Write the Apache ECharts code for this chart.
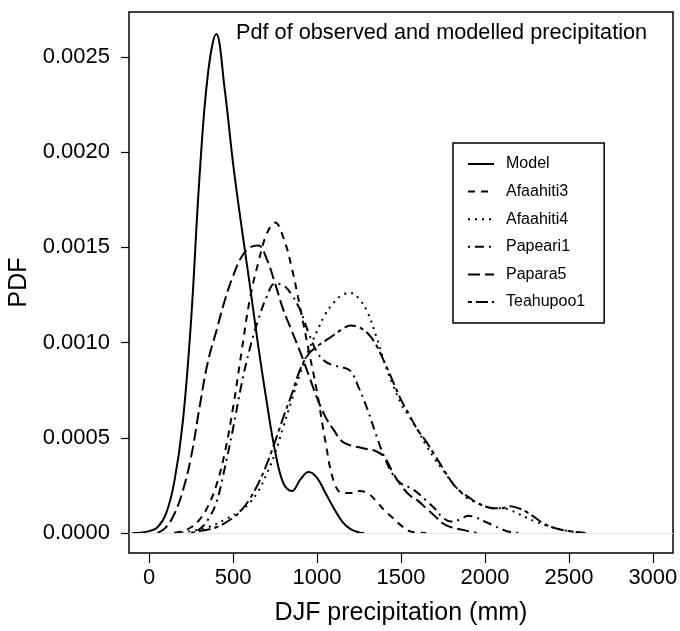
<!DOCTYPE html>
<html>
<head>
<meta charset="utf-8">
<script src="https://cdn.jsdelivr.net/npm/echarts@6/dist/echarts.min.js"></script>
<style>
html, body { margin: 0; padding: 0; background: #fff; }
#main { width: 680px; height: 631px; }
</style>
</head>
<body>
<div id="main"></div>
<script>
// series names as in the legend
var seriesNames = ['Model', 'Afaahiti3', 'Afaahiti4', 'Papeari1', 'Papara5', 'Teahupoo1'];

// precipitation (mm) and density values
var modelX = [-100, -50, 0, 50, 100, 150, 200, 250, 300, 350, 400, 450, 500, 550, 600, 650, 700, 750, 800, 850, 900, 950, 1000, 1050, 1100, 1150, 1200, 1250, 1280];
var modelY = [0, 0.000002, 0.00001, 0.00003, 0.0001, 0.00027, 0.00058, 0.00112, 0.00187, 0.00241, 0.00262, 0.00233, 0.00194, 0.00161, 0.0013, 0.00098, 0.00069, 0.00043, 0.00026, 0.00022, 0.00028, 0.00032, 0.00029, 0.00021, 0.00013, 0.00006, 0.00002, 0.000003, 0];

var afaahiti3X = [150, 200, 250, 300, 350, 400, 450, 500, 550, 600, 650, 700, 750, 800, 850, 900, 950, 1000, 1050, 1100, 1150, 1200, 1250, 1300, 1350, 1400, 1450, 1500, 1550, 1600, 1650];
var afaahiti3Y = [0, 0.00001, 0.00003, 0.00007, 0.00014, 0.00025, 0.00042, 0.00066, 0.00095, 0.00123, 0.00142, 0.00157, 0.00163, 0.00155, 0.00139, 0.00118, 0.00096, 0.00074, 0.00048, 0.00027, 0.00021, 0.00021, 0.00022, 0.00021, 0.00017, 0.00012, 0.00008, 0.00004, 0.00001, 0.000002, 0];

var afaahiti4X = [150, 250, 350, 450, 550, 600, 650, 700, 750, 800, 850, 900, 950, 1000, 1050, 1100, 1150, 1200, 1250, 1300, 1350, 1400, 1450, 1500, 1550, 1600, 1650, 1700, 1750, 1800, 1850, 1900, 1950, 2000, 2050, 2100, 2150, 2200, 2250, 2300, 2400, 2500, 2600];
var afaahiti4Y = [0, 0.00001, 0.00003, 0.00007, 0.00012, 0.00016, 0.00022, 0.00031, 0.00042, 0.00056, 0.0007, 0.00084, 0.00096, 0.00106, 0.00115, 0.00121, 0.00125, 0.00126, 0.00123, 0.00116, 0.00104, 0.0009, 0.00078, 0.00068, 0.00061, 0.00054, 0.00046, 0.00039, 0.00033, 0.00027, 0.00022, 0.00018, 0.00016, 0.00014, 0.00013, 0.00013, 0.00012, 0.0001, 0.00008, 0.00006, 0.00003, 0.00001, 0];

var papeari1X = [250, 300, 350, 400, 450, 500, 550, 600, 650, 700, 750, 800, 850, 900, 950, 1000, 1050, 1100, 1150, 1200, 1250, 1300, 1350, 1400, 1450, 1500, 1550, 1600, 1650, 1700, 1750, 1800, 1850, 1900, 1950, 2000, 2050, 2100, 2150, 2200];
var papeari1Y = [0, 0.00002, 0.00007, 0.00016, 0.00034, 0.00055, 0.00078, 0.00097, 0.00112, 0.00124, 0.00131, 0.0013, 0.00125, 0.00117, 0.00105, 0.00095, 0.0009, 0.00088, 0.00087, 0.00085, 0.00076, 0.00065, 0.00052, 0.0004, 0.00031, 0.00026, 0.00024, 0.00021, 0.00017, 0.00013, 0.00008, 0.00006, 0.00007, 0.00009, 0.00008, 0.00006, 0.00004, 0.00002, 0.000005, 0];

var papara5X = [50, 100, 150, 200, 250, 300, 350, 400, 450, 500, 550, 600, 650, 700, 750, 800, 850, 900, 950, 1000, 1050, 1100, 1150, 1200, 1250, 1300, 1350, 1400, 1450, 1500, 1550, 1600, 1650, 1700, 1750, 1800, 1850, 1900, 1950];
var papara5Y = [0, 0.00003, 0.0001, 0.00022, 0.0004, 0.00066, 0.0009, 0.00106, 0.00122, 0.00135, 0.00145, 0.0015, 0.00151, 0.00144, 0.00131, 0.00117, 0.00106, 0.00095, 0.00083, 0.00071, 0.00061, 0.00054, 0.00048, 0.00046, 0.00045, 0.00044, 0.00043, 0.0004, 0.00032, 0.00025, 0.0002, 0.00017, 0.00013, 0.00009, 0.00005, 0.00003, 0.00002, 0.00001, 0];

var teahupoo1X = [250, 300, 400, 500, 550, 600, 650, 700, 750, 800, 850, 900, 950, 1000, 1050, 1100, 1150, 1200, 1250, 1300, 1350, 1400, 1450, 1500, 1550, 1600, 1650, 1700, 1750, 1800, 1850, 1900, 1950, 2000, 2050, 2100, 2150, 2200, 2250, 2300, 2350, 2400, 2500, 2600];
var teahupoo1Y = [0, 0.00001, 0.00003, 0.00008, 0.00012, 0.00018, 0.00026, 0.00036, 0.00048, 0.00061, 0.00073, 0.00086, 0.00094, 0.00098, 0.00101, 0.00104, 0.00107, 0.00109, 0.00108, 0.00105, 0.00099, 0.0009, 0.0008, 0.0007, 0.00062, 0.00054, 0.00048, 0.00041, 0.00034, 0.00027, 0.00022, 0.00019, 0.00016, 0.00014, 0.00013, 0.00013, 0.00014, 0.00013, 0.00011, 0.00008, 0.00005, 0.00003, 0.00001, 0];

// tick positions
var xTicks = [0, 500, 1000, 1500, 2000, 2500, 3000];
var yTicks = [0, 0.0005, 0.001, 0.0015, 0.002, 0.0025];

var lineTypes = ['solid', [7, 6], [2, 5], [2, 5, 9, 5], [12, 5], [4, 4, 12, 4]];

function zip(xs, ys) {
	var out = [];
	for (var i = 0; i < xs.length; i++) out.push([xs[i], ys[i]]);
	return out;
}

var allX = [modelX, afaahiti3X, afaahiti4X, papeari1X, papara5X, teahupoo1X];
var allY = [modelY, afaahiti3Y, afaahiti4Y, papeari1Y, papara5Y, teahupoo1Y];

var font = '"Liberation Sans", Arial, Helvetica, sans-serif';

var series = [];
for (var k = 0; k < seriesNames.length; k++) {
	series.push({
		name: seriesNames[k],
		type: 'line',
		data: zip(allX[k], allY[k]),
		smooth: 0.4,
		symbol: 'none',
		silent: true,
		lineStyle: { color: '#000', width: 2, type: lineTypes[k] },
		itemStyle: { color: '#000' },
		z: 3
	});
}
// faint zero line
series[0].markLine = {
	silent: true,
	symbol: 'none',
	label: { show: false },
	lineStyle: { color: '#e4e4e4', width: 1, type: 'solid' },
	data: [{ yAxis: 0 }]
};

var myChart = echarts.init(document.getElementById('main'));
var option = {
	animation: false,
	backgroundColor: '#fff',
	textStyle: { fontFamily: font },
	title: {
		text: 'Pdf of observed and modelled precipitation',
		left: 236,
		top: 22,
		padding: 0,
		textStyle: { fontFamily: font, fontSize: 21.7, fontWeight: 'normal', color: '#000' }
	},
	legend: {
		orient: 'vertical',
		left: 453,
		top: 143,
		padding: [13, 19, 13, 14],
		itemWidth: 26,
		itemHeight: 14,
		itemGap: 11.6,
		borderColor: '#000',
		borderWidth: 1.5,
		backgroundColor: '#fff',
		data: seriesNames,
		itemStyle: { opacity: 0 },
		textStyle: { fontFamily: font, fontSize: 16, color: '#000', padding: [0, 0, 0, 7] }
	},
	grid: {
		left: 129,
		right: 7,
		top: 12,
		bottom: 78,
		show: true,
		borderColor: '#000',
		borderWidth: 1.5,
		containLabel: false,
		outerBoundsMode: 'none'
	},
	xAxis: {
		type: 'value',
		min: -120,
		max: 3120,
		name: 'DJF precipitation (mm)',
		nameLocation: 'middle',
		nameGap: 48,
		nameTextStyle: { fontFamily: font, fontSize: 25, color: '#000' },
		axisLine: { show: false, onZero: false },
		splitLine: { show: false },
		axisTick: { show: true, customValues: xTicks, length: 10, inside: false, lineStyle: { color: '#000', width: 1.2 } },
		axisLabel: {
			customValues: xTicks,
			margin: 14,
			fontSize: 22,
			color: '#000',
			fontFamily: font,
			formatter: function (v) { return String(v); }
		}
	},
	yAxis: {
		type: 'value',
		min: -0.000105,
		max: 0.002736,
		name: 'PDF',
		nameLocation: 'middle',
		nameGap: 89,
		nameTextStyle: { fontFamily: font, fontSize: 25, color: '#000' },
		axisLine: { show: false, onZero: false },
		splitLine: { show: false },
		axisTick: { show: true, customValues: yTicks, length: 8, inside: false, lineStyle: { color: '#000', width: 1.2 } },
		axisLabel: {
			customValues: yTicks,
			margin: 19,
			fontSize: 22,
			color: '#000',
			fontFamily: font,
			formatter: function (v) { return v.toFixed(4); }
		}
	},
	series: series
};
myChart.setOption(option);
</script>
</body>
</html>
